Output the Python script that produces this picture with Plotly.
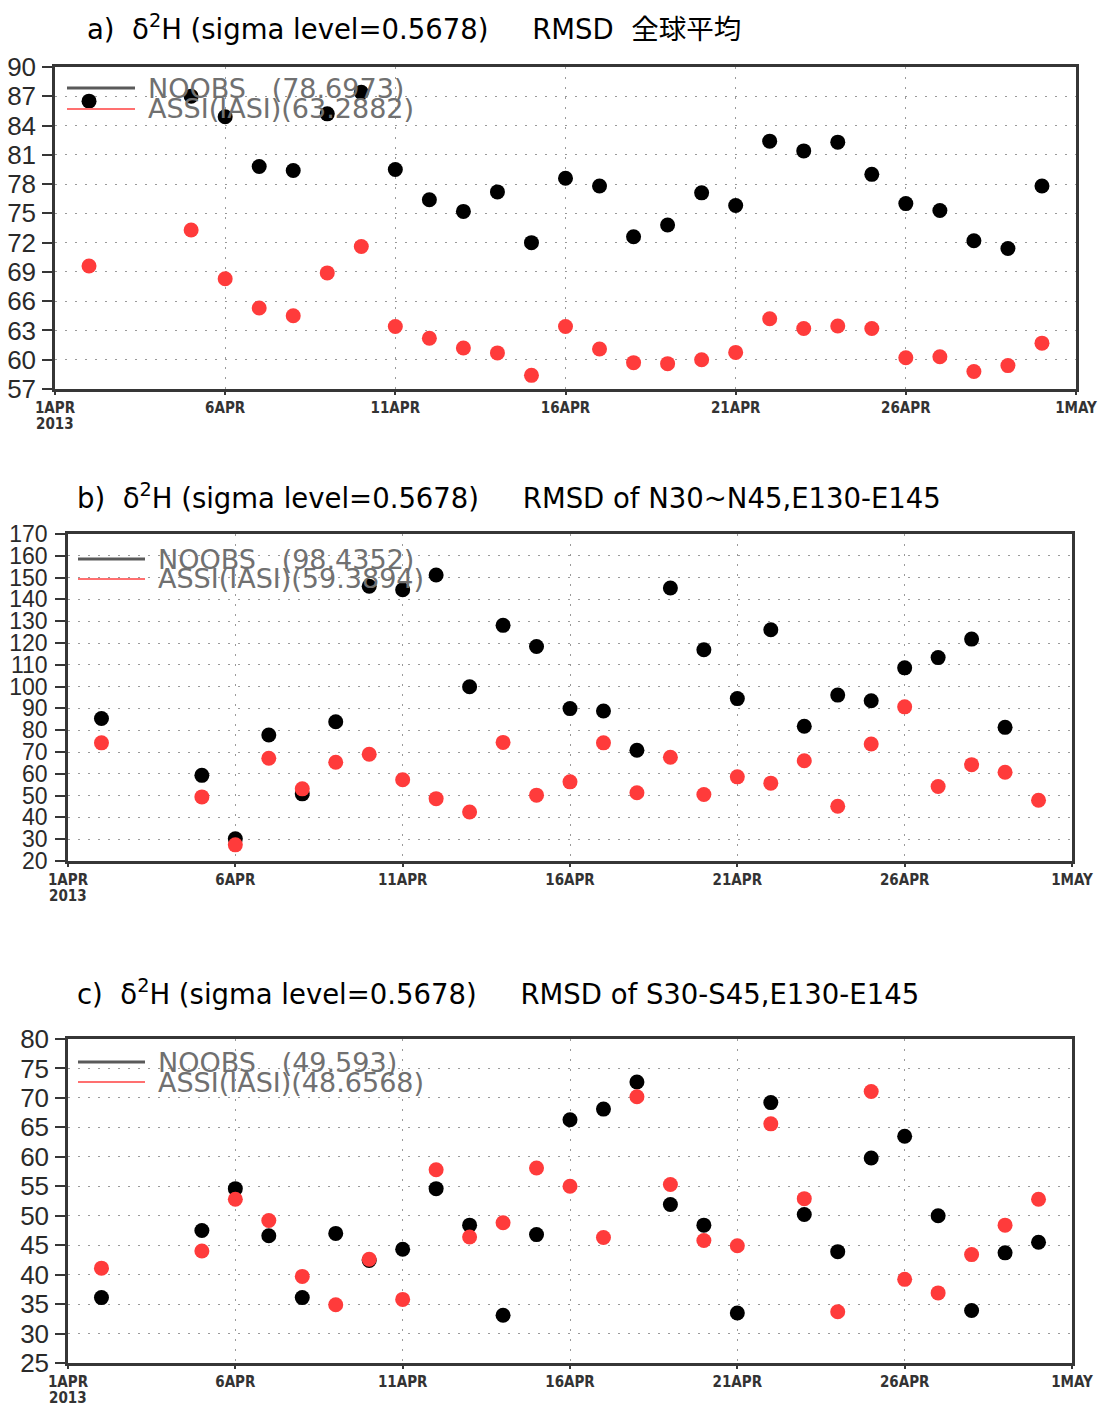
import plotly.graph_objects as go

# Analysis dates (April 2013); 3 and 4 April have no data
dates = ["2013-04-02", "2013-04-05", "2013-04-06", "2013-04-07", "2013-04-08",
         "2013-04-09", "2013-04-10", "2013-04-11", "2013-04-12", "2013-04-13",
         "2013-04-14", "2013-04-15", "2013-04-16", "2013-04-17", "2013-04-18",
         "2013-04-19", "2013-04-20", "2013-04-21", "2013-04-22", "2013-04-23",
         "2013-04-24", "2013-04-25", "2013-04-26", "2013-04-27", "2013-04-28",
         "2013-04-29", "2013-04-30"]

# a) global mean RMSD
global_noobs = [86.5, 87.0, 84.9, 79.8, 79.4, 85.2, 87.4, 79.5, 76.4, 75.2,
                77.2, 72.0, 78.6, 77.8, 72.6, 73.8, 77.1, 75.8, 82.4, 81.4,
                82.3, 79.0, 76.0, 75.3, 72.2, 71.4, 77.8]
global_assi = [69.6, 73.3, 68.3, 65.3, 64.5, 68.9, 71.6, 63.4, 62.2, 61.2,
               60.7, 58.4, 63.4, 61.1, 59.7, 59.6, 60.0, 60.75, 64.2, 63.2,
               63.45, 63.2, 60.2, 60.3, 58.8, 59.4, 61.7]

# b) N30~N45, E130-E145
north_noobs = [85.4, 59.3, 30.2, 77.8, 50.8, 83.9, 146.0, 144.4, 151.2, 99.9,
               128.1, 118.4, 89.9, 88.8, 70.8, 145.2, 116.9, 94.5, 126.1, 81.8,
               96.1, 93.5, 108.6, 113.3, 121.8, 81.3, None]
north_assi = [74.2, 49.4, 27.4, 67.1, 53.1, 65.3, 69.0, 57.3, 48.6, 42.5,
              74.4, 50.2, 56.3, 74.2, 51.3, 67.6, 50.5, 58.6, 55.7, 66.0,
              45.1, 73.7, 90.7, 54.2, 64.2, 60.7, 47.9]

# c) S30-S45, E130-E145
south_noobs = [36.1, 47.5, 54.6, 46.6, 36.1, 47.0, 42.4, 44.3, 54.6, 48.4,
               33.1, 46.8, 66.3, 68.1, 72.7, 51.9, 48.4, 33.5, 69.2, 50.2,
               43.9, 59.8, 63.5, 50.0, 33.9, 43.7, 45.5]
south_assi = [41.1, 44.0, 52.8, 49.2, 39.7, 34.9, 42.6, 35.8, 57.8, 46.4,
              48.8, 58.1, 55.0, 46.3, 70.2, 55.3, 45.8, 44.9, 65.6, 52.9,
              33.7, 71.1, 39.2, 36.9, 43.4, 48.4, 52.8]

x_tickvals = ["2013-04-01", "2013-04-06", "2013-04-11", "2013-04-16",
              "2013-04-21", "2013-04-26", "2013-05-01"]
x_ticktext = ["1APR", "6APR", "11APR", "16APR", "21APR", "26APR", "1MAY"]
year_label = "2013"

NB = "\u00a0"
panels = [
    dict(noobs=global_noobs, assi=global_assi,
         yticks=[57, 60, 63, 66, 69, 72, 75, 78, 81, 84, 87, 90], yrange=[57, 90],
         title="a)" + NB * 2 + "δ<sup>2</sup>H (sigma level=0.5678)" + NB * 5 + "RMSD" + NB * 2 + "全球平均",
         leg=["NOOBS" + NB * 3 + "(78.6973)", "ASSI(IASI)(63.2882)"]),
    dict(noobs=north_noobs, assi=north_assi,
         yticks=list(range(20, 171, 10)), yrange=[20, 170],
         title="b)" + NB * 2 + "δ<sup>2</sup>H (sigma level=0.5678)" + NB * 5 + "RMSD of N30~N45,E130-E145",
         leg=["NOOBS" + NB * 3 + "(98.4352)", "ASSI(IASI)(59.3894)"]),
    dict(noobs=south_noobs, assi=south_assi,
         yticks=list(range(25, 81, 5)), yrange=[25, 80],
         title="c)" + NB * 2 + "δ<sup>2</sup>H (sigma level=0.5678)" + NB * 5 + "RMSD of S30-S45,E130-E145",
         leg=["NOOBS" + NB * 3 + "(49.593)", "ASSI(IASI)(48.6568)"]),
]

W, H = 1100, 1408
# pixel boxes of the three plot frames: left, right, top, bottom
boxes = [(55, 1076, 67, 389), (68, 1072, 534, 861), (68, 1072, 1039, 1363)]
ytick_size = [26, 23, 26]
ytick_standoff = [1, 3, 1]
title_pos = [(85, 27), (75, 496), (75, 992)]
# legend: line start, line end, text start, black row y, red row y
legend_pos = [(67, 135, 146, 88, 109), (78, 145, 156, 559, 579), (78, 145, 156, 1062, 1082)]
YEAR_OFFSET = 35  # year line sits below the first date label


def px(x):
    return x / W


def py(y):
    return 1 - y / H


RED = "#ff3b3b"
FRAME = "#363636"
TICKFONT_X = dict(family="DejaVu Sans Condensed, DejaVu Sans, sans-serif",
                  size=15, color="#333333", weight="bold")

fig = go.Figure()
annotations = []
shapes = []

for i, p in enumerate(panels):
    n = "" if i == 0 else str(i + 1)
    xa, ya = "x" + n, "y" + n
    fig.add_trace(go.Scatter(x=dates, y=p["noobs"], mode="markers", xaxis=xa, yaxis=ya,
                             marker=dict(size=15, color="black"), showlegend=False))
    fig.add_trace(go.Scatter(x=dates, y=p["assi"], mode="markers", xaxis=xa, yaxis=ya,
                             marker=dict(size=15, color=RED), showlegend=False))
    l, r, t, b = boxes[i]
    fig.layout["xaxis" + n] = dict(
        domain=[px(l), px(r)], anchor=ya, type="date", automargin=False,
        range=["2013-04-01", "2013-05-01"],
        tickvals=x_tickvals, ticktext=x_ticktext, tickfont=TICKFONT_X,
        ticks="outside", ticklen=3, tickcolor=FRAME, tickwidth=2,
        showgrid=True, gridcolor="#9a9a9a", griddash="2px,8px", gridwidth=1,
        showline=True, linecolor=FRAME, linewidth=2.5, mirror=True,
        zeroline=False, fixedrange=True)
    fig.layout["yaxis" + n] = dict(
        domain=[py(b), py(t)], anchor=xa, range=p["yrange"], automargin=False,
        tickvals=p["yticks"],
        tickfont=dict(family="Liberation Sans, Arial, sans-serif", size=ytick_size[i],
                      color="#2a2a2a"),
        ticks="outside", ticklen=10, tickcolor=FRAME, tickwidth=2,
        ticklabelstandoff=ytick_standoff[i],
        showgrid=True, gridcolor="#9a9a9a", griddash="2px,8px", gridwidth=1,
        showline=True, linecolor=FRAME, linewidth=2.5, mirror=True,
        zeroline=False, fixedrange=True)

    # year under the first date tick
    annotations.append(dict(text=year_label, x=x_tickvals[0], xref=xa,
                            y=py(b + YEAR_OFFSET), yref="paper",
                            xanchor="center", yanchor="middle", showarrow=False,
                            font=TICKFONT_X))

    tx, ty = title_pos[i]
    annotations.append(dict(text=p["title"], x=px(tx), y=py(ty), xref="paper", yref="paper",
                            xanchor="left", yanchor="middle", showarrow=False,
                            font=dict(family="DejaVu Sans, Noto Sans CJK JP, sans-serif",
                                      size=27.5, color="black")))

    x0, x1, xt, y_black, y_red = legend_pos[i]
    shapes.append(dict(type="line", xref="paper", yref="paper",
                       x0=px(x0), x1=px(x1), y0=py(y_black), y1=py(y_black),
                       line=dict(color="#5a5a5a", width=3)))
    shapes.append(dict(type="line", xref="paper", yref="paper",
                       x0=px(x0), x1=px(x1), y0=py(y_red), y1=py(y_red),
                       line=dict(color="#ff7070", width=2)))
    for label, yy in zip(p["leg"], (y_black, y_red)):
        annotations.append(dict(text=label, x=px(xt), y=py(yy), xref="paper", yref="paper",
                                xanchor="left", yanchor="middle", showarrow=False,
                                font=dict(family="DejaVu Sans, sans-serif", size=27,
                                          color="#707070")))

fig.update_layout(width=W, height=H, autosize=False,
                  margin=dict(l=0, r=0, t=0, b=0, autoexpand=False),
                  paper_bgcolor="white", plot_bgcolor="white",
                  annotations=annotations, shapes=shapes, showlegend=False)

fig.write_html("out.html")
